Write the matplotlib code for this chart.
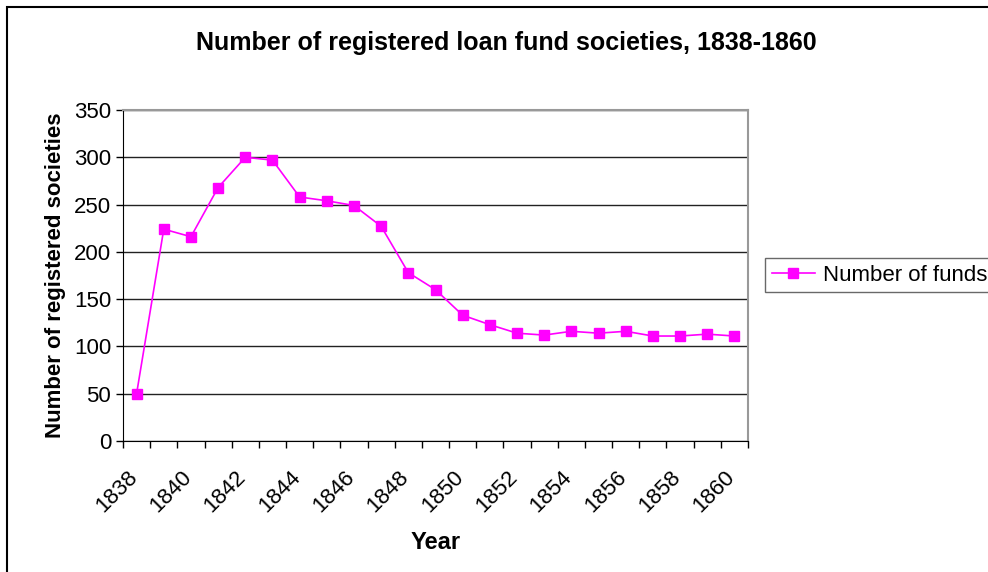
import matplotlib.pyplot as plt
from matplotlib.patches import Rectangle
from matplotlib.transforms import ScaledTranslation

plt.rcParams["font.family"] = ["Liberation Sans", "DejaVu Sans"]

years = list(range(1838, 1861))
societies = [50, 224, 216, 268, 300, 297, 258, 254, 249, 227, 178, 160,
             133, 123, 114, 112, 116, 114, 116, 111, 111, 113, 111]
tick_labels = [str(y) for y in years[::2]]

fig = plt.figure(figsize=(9.88, 5.72), dpi=100)
ax = fig.add_axes([123 / 988, 1 - 441 / 572, 625 / 988, 331 / 572])

x = list(range(len(years)))
ax.plot(x, societies, color="#FF00FF", linewidth=1.2, marker="s",
        markersize=6.5, label="Number of funds", zorder=3)

ax.set_xlim(-0.5, len(years) - 0.5)
ax.set_ylim(0, 350)
ax.set_yticks(range(0, 351, 50))
ax.tick_params(axis="y", labelsize=16, length=5, width=1, direction="out")

# category ticks sit between the points, labels every other year
ax.set_xticks([i - 0.5 for i in range(len(years) + 1)])
ax.set_xticklabels([])
ax.set_xticks(x[::2], minor=True)
ax.set_xticklabels(tick_labels, minor=True, rotation=45, ha="right",
                   va="top", rotation_mode="anchor", fontsize=16)
ax.tick_params(axis="x", which="major", length=5, width=1, direction="out")
ax.tick_params(axis="x", which="minor", length=0, pad=10)
shift = ScaledTranslation(-10 / 100, -12 / 100, fig.dpi_scale_trans)
for lbl in ax.get_xticklabels(minor=True):
    lbl.set_transform(lbl.get_transform() + shift)

ax.grid(axis="y", color="#222222", linewidth=1)
ax.set_axisbelow(True)
for side in ["top", "right"]:
    ax.spines[side].set_color("#999999")
    ax.spines[side].set_linewidth(1.5)
for side in ["left", "bottom"]:
    ax.spines[side].set_color("black")

ax.set_xlabel("Year", fontsize=17, fontweight="bold", labelpad=10)
ax.set_ylabel("Number of registered societies", fontsize=16,
              fontweight="bold", labelpad=6)
fig.text(506 / 988, 1 - 43 / 572,
         "Number of registered loan fund societies, 1838-1860",
         ha="center", va="center", fontsize=18, fontweight="bold")

leg = fig.legend(loc="upper left", bbox_to_anchor=(765 / 988, 1 - 258 / 572),
                 fontsize=16, frameon=True, fancybox=False, borderpad=0.3,
                 handlelength=1.95, handletextpad=0.36, borderaxespad=0)
leg.get_frame().set_edgecolor("#444444")
leg.get_frame().set_linewidth(1)

fig.patches.append(Rectangle((7 / 988, -0.1), 1.2, 1 - 7 / 572 + 0.1,
                             transform=fig.transFigure, fill=False,
                             edgecolor="black", linewidth=1.5))

fig.savefig("out.png", dpi=100)
